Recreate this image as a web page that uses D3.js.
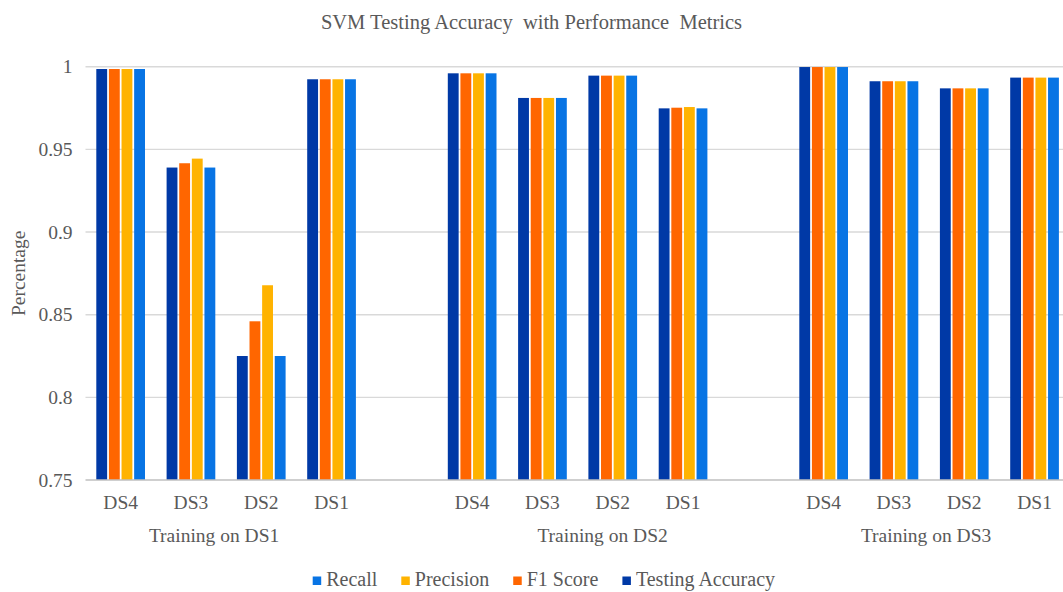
<!DOCTYPE html>
<html>
<head>
<meta charset="utf-8">
<script src="https://cdn.jsdelivr.net/npm/d3@7"></script>
<style>
  body { margin: 0; background: #fff; }
  svg { display: block; font-family: "Liberation Serif", "Times New Roman", serif; }
  .tick text { fill: #595959; }
</style>
</head>
<body>
<svg id="chart"></svg>
<script>
// chart data
const groups = ["Training on DS1", "Training on DS2", "Training on DS3"];
const testSets = ["DS4", "DS3", "DS2", "DS1"];
const metrics = ["Testing Accuracy", "F1 Score", "Precision", "Recall"];
const metricColors = ["#0039a6", "#ff6600", "#ffb300", "#0874e4"];
const legendOrder = ["Recall", "Precision", "F1 Score", "Testing Accuracy"];
const yTicks = [0.75, 0.8, 0.85, 0.9, 0.95, 1];

// values per metric, in order: DS1 (DS4..DS1), DS2 (DS4..DS1), DS3 (DS4..DS1)
const testingAccuracy = [0.9986, 0.939, 0.825, 0.9924, 0.996, 0.9811, 0.9946, 0.9748, 0.9998, 0.9912, 0.9869, 0.9934];
const f1Score = [0.9986, 0.9416, 0.846, 0.9924, 0.996, 0.9811, 0.9946, 0.9752, 0.9998, 0.9912, 0.9869, 0.9934];
const precision = [0.9986, 0.9444, 0.8678, 0.9924, 0.996, 0.9811, 0.9946, 0.9756, 0.9998, 0.9912, 0.9869, 0.9934];
const recall = [0.9986, 0.939, 0.825, 0.9924, 0.996, 0.9811, 0.9946, 0.9748, 0.9998, 0.9912, 0.9869, 0.9934];

const seriesValues = [testingAccuracy, f1Score, precision, recall];

const width = 1063, height = 592;
const margin = {top: 66.7, left: 85.5, bottom: 112};
const slotWidth = 70.3;
const fontFamily = "Liberation Serif";

const svg = d3.select("#chart").attr("width", width).attr("height", height);

// one slot per category, with an empty slot between training groups
const slots = [];
groups.forEach((g, gi) => {
    testSets.forEach(t => slots.push({key: g + "|" + t, group: g, label: t}));
    if (gi < groups.length - 1) slots.push({key: "gap" + gi, group: null, label: ""});
});

// table built from the arrays
const table = [];
groups.forEach((g, gi) => {
    testSets.forEach((t, ti) => {
        metrics.forEach((m, mi) => {
            table.push({group: g, set: t, metric: m, value: seriesValues[mi][gi * testSets.length + ti]});
        });
    });
});

const x = d3.scaleBand()
    .domain(slots.map(d => d.key))
    .range([margin.left, margin.left + slots.length * slotWidth]);

const groupWidth = 48.7;
const xInner = d3.scaleBand()
    .domain(metrics)
    .range([(slotWidth - groupWidth) / 2, (slotWidth + groupWidth) / 2])
    .paddingInner(0.14);

const y = d3.scaleLinear()
    .domain([0.75, 1])
    .range([height - margin.bottom, margin.top]);

const color = d3.scaleOrdinal().domain(metrics).range(metricColors);

// gridlines
svg.append("g")
    .selectAll("line")
    .data(yTicks.slice(1))
    .join("line")
    .attr("x1", margin.left)
    .attr("x2", width)
    .attr("y1", d => y(d))
    .attr("y2", d => y(d))
    .style("stroke", "#d9d9d9")
    .style("stroke-width", 1.4);

// y axis labels, no axis line
const yAxis = d3.axisLeft(y).tickValues(yTicks).tickFormat(d3.format("~g")).tickSize(0).tickPadding(0);
svg.append("g")
    .attr("transform", `translate(${margin.left - 13},0)`)
    .call(yAxis)
    .attr("font-family", fontFamily)
    .attr("font-size", 19.5)
    .call(g => g.select(".domain").remove());

// bars
svg.append("g")
    .selectAll("rect")
    .data(table)
    .join("rect")
    .attr("x", d => x(d.group + "|" + d.set) + xInner(d.metric))
    .attr("width", xInner.bandwidth())
    .attr("y", d => y(d.value))
    .attr("height", d => y(0.75) - y(d.value))
    .attr("fill", d => color(d.metric));

// baseline
svg.append("line")
    .attr("x1", margin.left)
    .attr("x2", width)
    .attr("y1", y(0.75))
    .attr("y2", y(0.75))
    .style("stroke", "#bfbfbf")
    .style("stroke-width", 1.5);

// category labels
const xAxis = d3.axisBottom(x)
    .tickValues(slots.filter(d => d.group).map(d => d.key))
    .tickFormat(k => k.split("|")[1])
    .tickSize(0)
    .tickPadding(0);
svg.append("g")
    .attr("transform", `translate(0,${y(0.75) + 15})`)
    .call(xAxis)
    .attr("font-family", fontFamily)
    .attr("font-size", 19.5)
    .call(g => g.select(".domain").remove());

// group labels, centred under each group's slots
const groupNudge = [-12, 25, -3];
svg.append("g")
    .selectAll("text")
    .data(groups)
    .join("text")
    .attr("x", (g, i) => x(g + "|" + testSets[0]) + (testSets.length * slotWidth) / 2 + groupNudge[i])
    .attr("y", 542)
    .attr("text-anchor", "middle")
    .style("font-size", "19.5px")
    .style("fill", "#595959")
    .text(d => d);

// y axis title
svg.append("text")
    .attr("transform", `translate(25,${(y(0.75) + y(1)) / 2}) rotate(-90)`)
    .attr("text-anchor", "middle")
    .style("font-size", "19.5px")
    .style("fill", "#595959")
    .text("Percentage");

// chart title
svg.append("text")
    .attr("x", width / 2)
    .attr("y", 29)
    .attr("text-anchor", "middle")
    .style("font-size", "20.5px")
    .style("fill", "#595959")
    .style("white-space", "pre")
    .text("SVM Testing Accuracy  with Performance  Metrics");

// legend
const legend = svg.append("g").attr("transform", "translate(312.7,586)");
let lx = 0;
legendOrder.forEach(m => {
    const item = legend.append("g").attr("transform", `translate(${lx},0)`);
    item.append("rect")
        .attr("x", 0)
        .attr("y", -9.5)
        .attr("width", 8.5)
        .attr("height", 8.5)
        .attr("fill", color(m));
    const t = item.append("text")
        .attr("x", 13.5)
        .attr("y", 0)
        .style("font-size", "20px")
        .style("fill", "#595959")
        .text(m);
    lx += 13.5 + t.node().getComputedTextLength() + 24;
});
</script>
</body>
</html>
